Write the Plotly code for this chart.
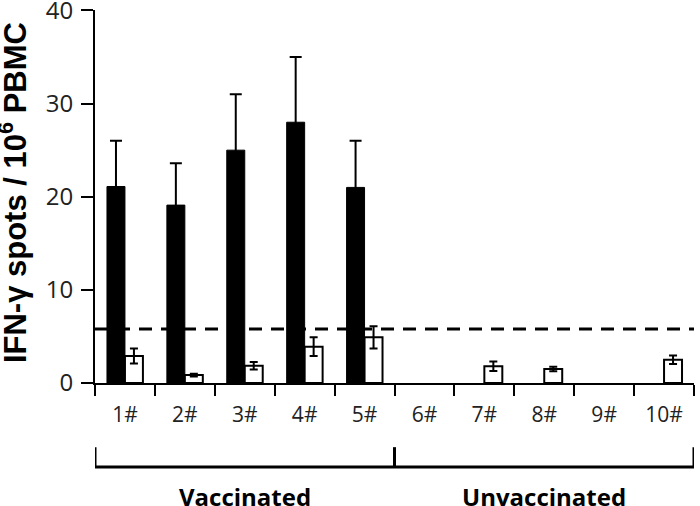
import plotly.graph_objects as go

categories = ["1#", "2#", "3#", "4#", "5#", "6#", "7#", "8#", "9#", "10#"]
vaccinated_black = [21.1, 19.1, 25.0, 28.0, 21.0, None, None, None, None, None]
black_err = [4.9, 4.5, 6.0, 7.0, 5.0, None, None, None, None, None]
white_vals = [2.9, 0.85, 1.85, 3.9, 4.9, None, 1.8, 1.5, None, 2.5]
white_err = [0.8, 0.15, 0.4, 1.0, 1.2, None, 0.5, 0.25, None, 0.45]
cutoff = 5.8
group_labels = ["Vaccinated", "Unvaccinated"]

fig = go.Figure()
fig.add_trace(go.Bar(
    x=categories, y=vaccinated_black,
    marker=dict(color="black", line=dict(color="black", width=1)),
    error_y=dict(type="data", array=black_err, symmetric=True, color="black", thickness=2, width=6),
    showlegend=False,
))
fig.add_trace(go.Bar(
    x=categories, y=white_vals,
    marker=dict(color="white", line=dict(color="black", width=2)),
    error_y=dict(type="data", array=white_err, symmetric=True, color="black", thickness=2, width=4),
    showlegend=False,
))

fig.add_shape(type="line", xref="paper", yref="y", x0=0, x1=1, y0=cutoff, y1=cutoff,
              line=dict(color="black", width=3, dash="13px,9px"))

# bracket
ybr = -0.225
ytk = -0.172
fig.add_shape(type="line", xref="x", yref="paper", x0=-0.53, x1=9.5, y0=ybr, y1=ybr,
              line=dict(color="black", width=3))
for xv in [-0.5, 4.5, 9.5]:
    fig.add_shape(type="line", xref="x", yref="paper", x0=xv, x1=xv, y0=ytk, y1=ybr,
                  line=dict(color="black", width=3))

for xv, lab in zip([2, 7], group_labels):
    fig.add_annotation(x=xv, y=-0.305, xref="x", yref="paper", text=lab, showarrow=False,
                       xanchor="center", yanchor="middle",
                       font=dict(family="Open Sans", size=24, color="black", weight="bold"))

fig.add_annotation(x=-0.138, y=0.51, xref="paper", yref="paper",
                   text="IFN-γ spots / 10<sup>6</sup> PBMC", textangle=-90, showarrow=False,
                   xanchor="center", yanchor="middle",
                   font=dict(family="Liberation Sans", size=31, color="black", weight="bold"))

fig.update_layout(
    width=700, height=506,
    margin=dict(l=95, r=6, t=10, b=123, autoexpand=False),
    paper_bgcolor="white", plot_bgcolor="white",
    barmode="group", bargap=0.4, bargroupgap=0,
)
fig.update_xaxes(
    type="category", range=[-0.5, 9.5],
    showline=True, linecolor="black", linewidth=2,
    ticks="outside", tickson="boundaries", ticklen=11, tickwidth=2, tickcolor="black",
    ticklabelstandoff=12,
    tickfont=dict(family="Open Sans", size=21, color="#222"),
    showgrid=False, zeroline=False,
)
fig.update_yaxes(
    range=[0, 40.05], tickvals=[0, 10, 20, 30, 40],
    showline=True, linecolor="black", linewidth=2,
    ticks="outside", ticklen=12, tickwidth=2, tickcolor="black",
    ticklabelstandoff=3, ticklabeloverflow="allow",
    tickfont=dict(family="Open Sans", size=24, color="#222"),
    showgrid=False, zeroline=False,
)

fig.write_html("out.html", config={"displayModeBar": False},
               post_script="document.body.style.margin='0';document.body.style.overflow='hidden';")
